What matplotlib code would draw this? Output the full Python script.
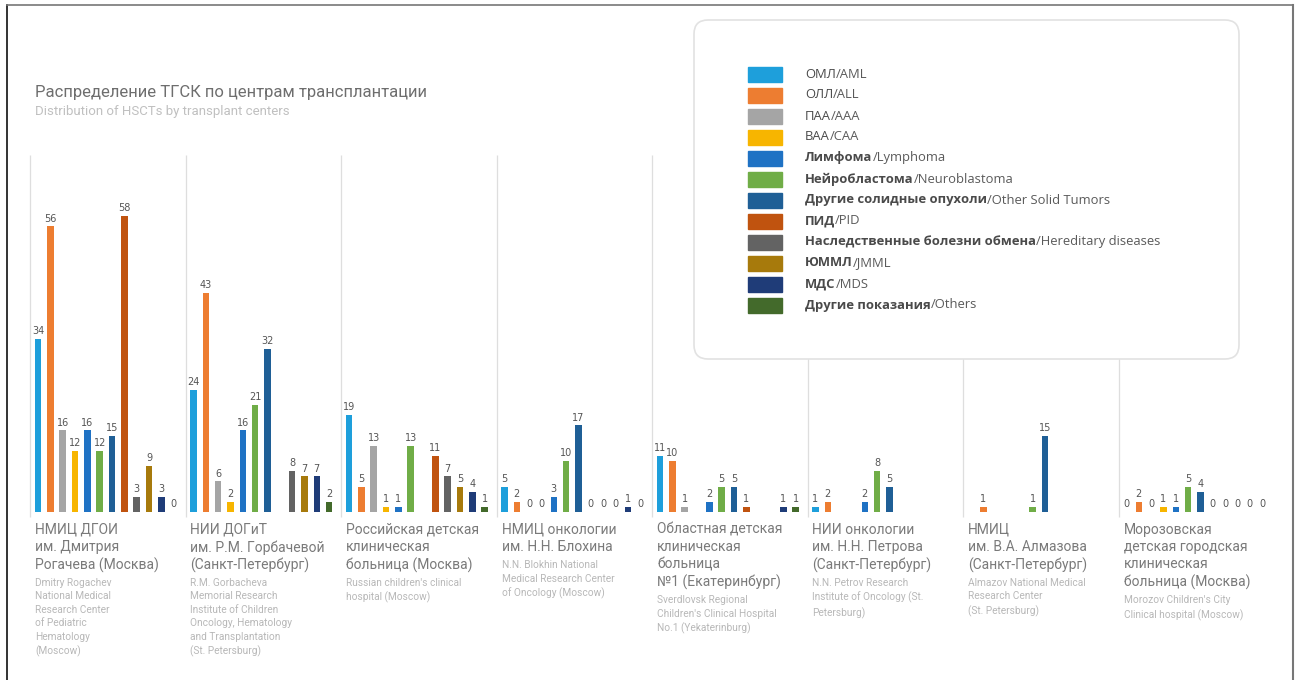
import numpy as np
import matplotlib
matplotlib.use("Agg")
import matplotlib.pyplot as plt
from matplotlib.patches import FancyBboxPatch, Rectangle
from matplotlib.lines import Line2D

plt.rcParams['font.family'] = ['Roboto', 'DejaVu Sans']

# diagnosis categories (legend order)
cat_ru = ["ОМЛ", "ОЛЛ", "ПАА", "ВАА", "Лимфома", "Нейробластома",
          "Другие солидные опухоли", "ПИД", "Наследственные болезни обмена",
          "ЮММЛ", "МДС", "Другие показания"]
cat_en = ["AML", "ALL", "AAA", "CAA", "Lymphoma", "Neuroblastoma",
          "Other Solid Tumors", "PID", "Hereditary diseases", "JMML", "MDS", "Others"]
colors = ["#1e9fdb", "#ed7d31", "#a5a5a5", "#f7b500", "#1f72c4", "#70ad47",
          "#1f5f96", "#c0530f", "#636363", "#a77a0c", "#1f3c78", "#436a2b"]

# centers
center_ru = [
    "НМИЦ ДГОИ\nим. Дмитрия\nРогачева (Москва)",
    "НИИ ДОГиТ\nим. Р.М. Горбачевой\n(Санкт-Петербург)",
    "Российская детская\nклиническая\nбольница (Москва)",
    "НМИЦ онкологии\nим. Н.Н. Блохина",
    "Областная детская\nклиническая\nбольница\n№1 (Екатеринбург)",
    "НИИ онкологии\nим. Н.Н. Петрова\n(Санкт-Петербург)",
    "НМИЦ\nим. В.А. Алмазова\n(Санкт-Петербург)",
    "Морозовская\nдетская городская\nклиническая\nбольница (Москва)",
]
center_en = [
    "Dmitry Rogachev\nNational Medical\nResearch Center\nof Pediatric\nHematology\n(Moscow)",
    "R.M. Gorbacheva\nMemorial Research\nInstitute of Children\nOncology, Hematology\nand Transplantation\n(St. Petersburg)",
    "Russian children's clinical\nhospital (Moscow)",
    "N.N. Blokhin National\nMedical Research Center\nof Oncology (Moscow)",
    "Sverdlovsk Regional\nChildren's Clinical Hospital\nNo.1 (Yekaterinburg)",
    "N.N. Petrov Research\nInstitute of Oncology (St.\nPetersburg)",
    "Almazov National Medical\nResearch Center\n(St. Petersburg)",
    "Morozov Children's City\nClinical hospital (Moscow)",
]

N = None
# values per center, in category order (None = not shown)
c1 = [34, 56, 16, 12, 16, 12, 15, 58, 3, 9, 3, 0]
c2 = [24, 43, 6, 2, 16, 21, 32, N, 8, 7, 7, 2]
c3 = [19, 5, 13, 1, 1, 13, N, 11, 7, 5, 4, 1]
c4 = [5, 2, 0, 0, 3, 10, 17, 0, 0, 0, 1, 0]
c5 = [11, 10, 1, N, 2, 5, 5, 1, N, N, 1, 1]
c6 = [1, 2, N, N, 2, 8, 5, N, N, N, N, N]
c7 = [N, 1, N, N, N, 1, 15, N, N, N, N, N]
c8 = [0, 2, 0, 1, 1, 5, 4, 0, 0, 0, 0, 0]
centers = [c1, c2, c3, c4, c5, c6, c7, c8]

W, H = 1295, 680
fig = plt.figure(figsize=(W / 100, H / 100), dpi=100)

def fx(px):
    return px / W

def fy(py):
    return 1 - py / H

# frame
fig.add_artist(Line2D([fx(7), fx(7)], [fy(5), 0], color="#111111", lw=1.2))
fig.add_artist(Line2D([fx(7), fx(1293)], [fy(5), fy(5)], color="#777777", lw=1.2))
fig.add_artist(Line2D([fx(1293), fx(1293)], [fy(5), 0], color="#777777", lw=1.5))

# title
fig.text(fx(35), fy(93), "Распределение ТГСК по центрам трансплантации",
         fontsize=12, color="#6e6e6e", va="center")
fig.text(fx(35), fy(112), "Distribution of HSCTs by transplant centers",
         fontsize=9.5, color="#c0c0c0", va="center")

# axes: left line at 30px, group width 155.5px, baseline 512px, top 155px
group_w = 155.5
slot = 12.33
left, base, top = 30, 512, 155
ax = fig.add_axes([fx(left), fy(base), fx(group_w * 8), (base - top) / H])
ax.set_xlim(0, group_w * 8)
ax.set_ylim(0, 70)
ax.axis("off")

for k, vals in enumerate(centers):
    g0 = k * group_w
    ax.vlines(g0, -1, 70, color="#dedede", lw=0.9, clip_on=False, zorder=0)
    for j, v in enumerate(vals):
        if v is None:
            continue
        x = g0 + 8 + j * slot
        h = max(v, 0.8) if v > 0 else 0
        if v > 0:
            ax.bar(x, h, width=6.5, color=colors[j], zorder=2)
        ax.annotate(str(v), (x, h), xytext=(0, 2),
                    textcoords="offset points", ha="center", va="bottom",
                    fontsize=7, color="#555555", family=["DejaVu Sans"])
    # center labels
    tx = left + g0 + 5
    fig.text(fx(tx), fy(523), center_ru[k], fontsize=10, color="#7a7a7a",
             va="top", ha="left", linespacing=1.28)
    nlines = center_ru[k].count("\n") + 1
    fig.text(fx(tx), fy(523 + nlines * 17.5 + 2), center_en[k], fontsize=7.3,
             color="#b8b8b8", va="top", ha="left", linespacing=1.45)

# legend on an overlay so it hides the separator lines
lax = fig.add_axes([0, 0, 1, 1], zorder=10)
lax.set_xlim(0, W)
lax.set_ylim(H, 0)
lax.axis("off")
lax.patch.set_alpha(0)
box = FancyBboxPatch((694, 20), 1239 - 694, 339,
                     boxstyle="round,pad=0,rounding_size=14",
                     facecolor="white", edgecolor="#e2e2e2", lw=1.2)
lax.add_patch(box)
for i in range(len(cat_ru)):
    yc = 74 + i * 21
    lax.add_patch(Rectangle((748, yc - 7.5), 34, 15, color=colors[i]))
    t1 = lax.text(805, yc, cat_ru[i], fontsize=9.4, color="#4a4a4a",
                  fontweight="bold" if i >= 4 else "normal", va="center",
                  ha="left", family=["Open Sans", "DejaVu Sans"])
    lax.annotate("/" + cat_en[i], xy=(1, 0), xycoords=t1, va="bottom", ha="left",
                 fontsize=9.4, color="#5a5a5a",
                 family=["Open Sans", "DejaVu Sans"], annotation_clip=False)

fig.savefig("out.png", dpi=100, facecolor="white")
